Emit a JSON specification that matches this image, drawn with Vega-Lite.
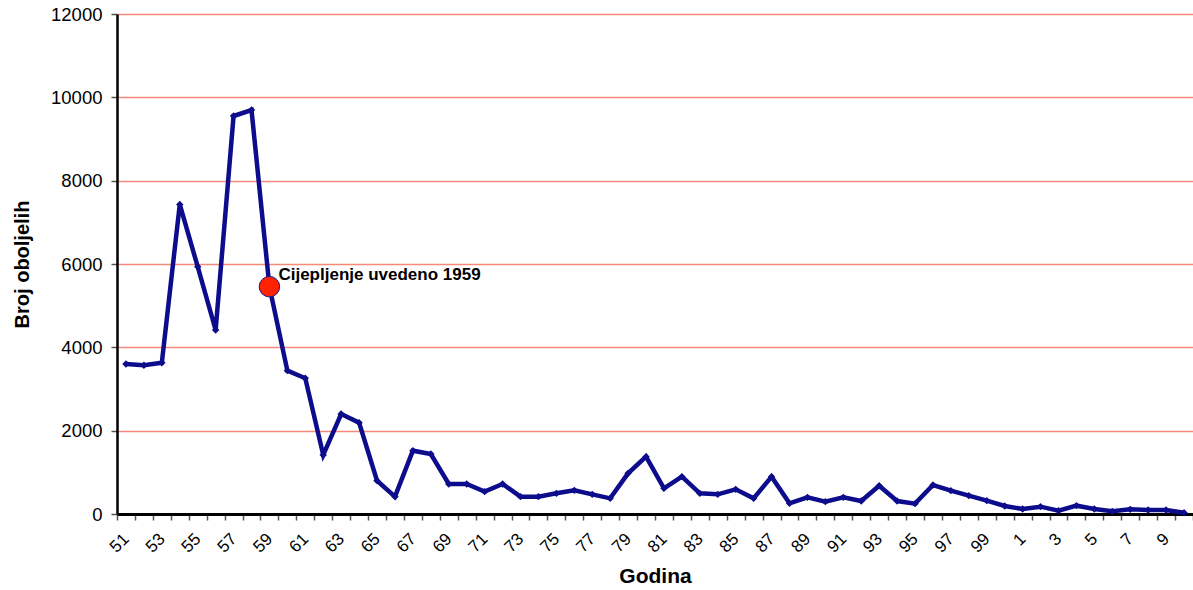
{
  "$schema": "https://vega.github.io/schema/vega-lite/v6.json",
  "autosize": "none",
  "width": 1076,
  "height": 500,
  "padding": {"left": 117, "top": 14, "right": 0, "bottom": 76},
  "background": "white",
  "config": {"view": {"stroke": null}, "font": "Liberation Sans"},
  "datasets": {
    "cases": [
      {"year": 1951, "value": 3600}, {"year": 1952, "value": 3570}, {"year": 1953, "value": 3630},
      {"year": 1954, "value": 7430}, {"year": 1955, "value": 5936}, {"year": 1956, "value": 4416},
      {"year": 1957, "value": 9552}, {"year": 1958, "value": 9696}, {"year": 1959, "value": 5456},
      {"year": 1960, "value": 3440}, {"year": 1961, "value": 3257}, {"year": 1962, "value": 1416},
      {"year": 1963, "value": 2400}, {"year": 1964, "value": 2192}, {"year": 1965, "value": 800},
      {"year": 1966, "value": 416}, {"year": 1967, "value": 1520}, {"year": 1968, "value": 1440},
      {"year": 1969, "value": 720}, {"year": 1970, "value": 720}, {"year": 1971, "value": 536},
      {"year": 1972, "value": 720}, {"year": 1973, "value": 416}, {"year": 1974, "value": 416},
      {"year": 1975, "value": 496}, {"year": 1976, "value": 568}, {"year": 1977, "value": 472},
      {"year": 1978, "value": 376}, {"year": 1979, "value": 976}, {"year": 1980, "value": 1376},
      {"year": 1981, "value": 616}, {"year": 1982, "value": 896}, {"year": 1983, "value": 496},
      {"year": 1984, "value": 472}, {"year": 1985, "value": 592}, {"year": 1986, "value": 376},
      {"year": 1987, "value": 896}, {"year": 1988, "value": 256}, {"year": 1989, "value": 400},
      {"year": 1990, "value": 296}, {"year": 1991, "value": 400}, {"year": 1992, "value": 312},
      {"year": 1993, "value": 680}, {"year": 1994, "value": 312}, {"year": 1995, "value": 248},
      {"year": 1996, "value": 696}, {"year": 1997, "value": 560}, {"year": 1998, "value": 440},
      {"year": 1999, "value": 320}, {"year": 2000, "value": 192}, {"year": 2001, "value": 120},
      {"year": 2002, "value": 176}, {"year": 2003, "value": 80}, {"year": 2004, "value": 200},
      {"year": 2005, "value": 120}, {"year": 2006, "value": 64}, {"year": 2007, "value": 112},
      {"year": 2008, "value": 96}, {"year": 2009, "value": 96}, {"year": 2010, "value": 32}
    ],
    "note": [
      {"year": 1959, "value": 5456, "label": "Cijepljenje uvedeno 1959"}
    ]
  },
  "layer": [
    {
      "data": {"name": "cases"},
      "mark": {
        "type": "line",
        "color": "#0c0c8c",
        "strokeWidth": 4.5,
        "strokeJoin": "miter",
        "point": {"shape": "diamond", "size": 55, "filled": true, "color": "#0c0c8c"}
      },
      "encoding": {
        "x": {
          "field": "year",
          "type": "ordinal",
          "bandPosition": 0.5,
          "scale": {"type": "band", "paddingInner": 0, "paddingOuter": 0},
          "axis": {
            "title": "Godina",
            "titleFont": "Liberation Sans",
            "titleFontSize": 21,
            "titleFontWeight": "bold",
            "titleColor": "#000000",
            "titlePadding": 10,
            "labelExpr": "(datum.value - 1951) % 2 == 0 ? '' + (datum.value % 100) : ''",
            "labelAngle": -45,
            "labelAlign": "right",
            "labelBaseline": "middle",
            "labelFontSize": 17,
            "labelColor": "#000000",
            "labelPadding": 16,
            "labelOverlap": false,
            "tickBand": "extent",
            "ticks": true,
            "tickSize": 6,
            "tickColor": "#555555",
            "tickWidth": 1.5,
            "domainColor": "#000000",
            "domainWidth": 3,
            "grid": false
          }
        },
        "y": {
          "field": "value",
          "type": "quantitative",
          "scale": {"domain": [0, 12000], "nice": false},
          "axis": {
            "title": "Broj oboljelih",
            "titleFont": "Liberation Sans",
            "titleFontSize": 20,
            "titleFontWeight": "bold",
            "titleColor": "#000000",
            "titlePadding": 18,
            "values": [0, 2000, 4000, 6000, 8000, 10000, 12000],
            "format": "d",
            "labelFontSize": 18.5,
            "labelColor": "#000000",
            "labelPadding": 9,
            "tickSize": 6,
            "tickColor": "#555555",
            "tickWidth": 1.5,
            "domainColor": "#000000",
            "domainWidth": 2.5,
            "grid": true,
            "gridColor": "#f8887a",
            "gridWidth": 1.5
          }
        }
      }
    },
    {
      "data": {"name": "note"},
      "mark": {"type": "point", "shape": "circle", "size": 420, "filled": true, "fill": "#ff2200", "stroke": "#1a1a8c", "strokeWidth": 1, "opacity": 1},
      "encoding": {
        "x": {"field": "year", "type": "ordinal", "bandPosition": 0.5},
        "y": {"field": "value", "type": "quantitative"}
      }
    },
    {
      "data": {"name": "note"},
      "mark": {"type": "text", "align": "left", "baseline": "middle", "dx": 9, "dy": -12, "font": "Liberation Sans", "fontSize": 17, "fontWeight": "bold", "color": "#000000"},
      "encoding": {
        "x": {"field": "year", "type": "ordinal", "bandPosition": 0.5},
        "y": {"field": "value", "type": "quantitative"},
        "text": {"field": "label"}
      }
    }
  ]
}
